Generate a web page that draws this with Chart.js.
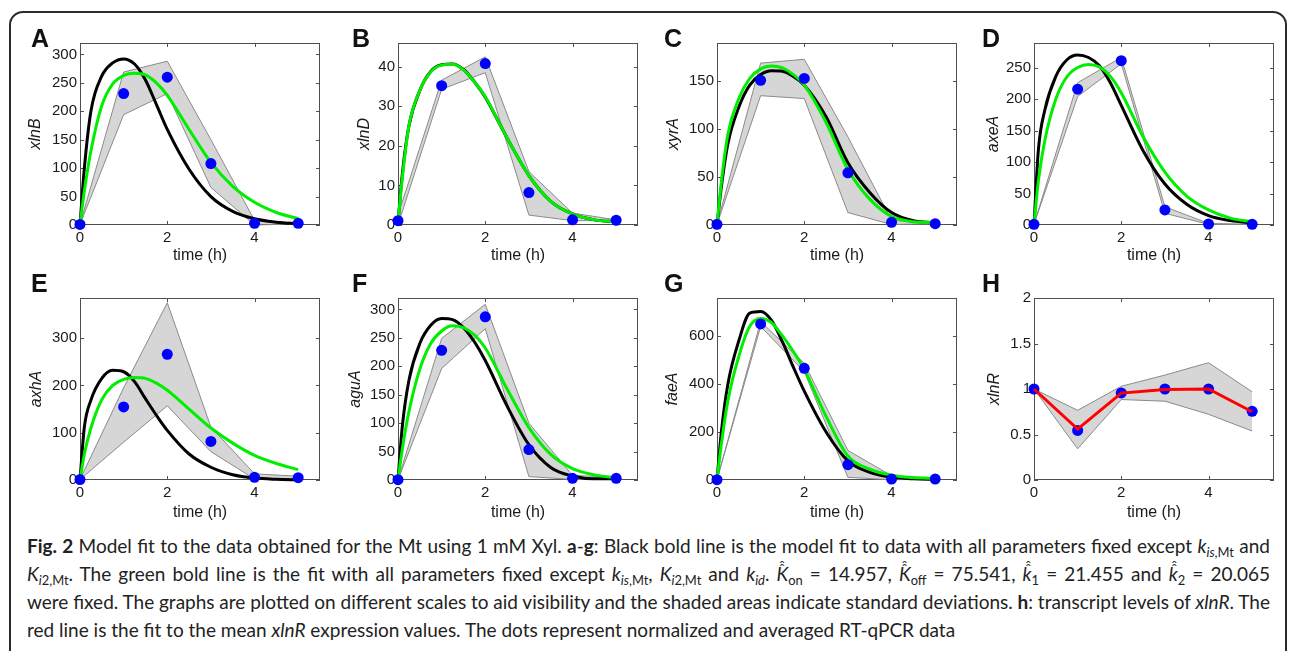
<!DOCTYPE html>
<html><head><meta charset="utf-8">
<script src="https://cdn.jsdelivr.net/npm/chart.js@4.4.0/dist/chart.umd.min.js"></script>
<style>
html,body{margin:0;padding:0;background:#fff;width:1292px;height:651px;overflow:hidden;position:relative;}
#frame{position:absolute;left:9px;top:11px;width:1278px;height:700px;border:2px solid #2b2b2b;border-radius:14px;box-sizing:border-box;}
canvas.panel{position:absolute;}
.letter{position:absolute;font:bold 25px "Liberation Sans",Arial,sans-serif;color:#111;line-height:25px;}
.cap{position:absolute;left:27px;font-family:Lato,"Open Sans",sans-serif;font-size:19px;line-height:20px;color:#222;white-space:nowrap;display:inline-block;}
.cap sub{font-size:68%;vertical-align:-0.3em;line-height:0;}
.cap b{font-weight:700;}
.hh{position:relative;display:inline-block;}
.hh::before,.hh::after{content:"\02C6";position:absolute;left:0.17em;font-style:normal;font-size:0.8em;line-height:1;}
.hh::before{top:-0.12em;}
.hh::after{top:-0.36em;}
</style></head>
<body>
<div id="frame"></div>
<div id="panels"></div>
<div class="cap" id="cap1" style="top:536px"><b>Fig. 2</b> Model fit to the data obtained for the Mt using 1 mM Xyl. <b>a</b>-<b>g</b>: Black bold line is the model fit to data with all parameters fixed except <i>k</i><sub><i>is</i>,Mt</sub> and</div>
<div class="cap" id="cap2" style="top:564px"><i>K</i><sub><i>i</i>2,Mt</sub>. The green bold line is the fit with all parameters fixed except <i>k</i><sub><i>is</i>,Mt</sub>, <i>K</i><sub><i>i</i>2,Mt</sub> and <i>k</i><sub><i>id</i></sub>. <span class="hh"><i>K</i></span><sub>on</sub> = 14.957, <span class="hh"><i>K</i></span><sub>off</sub> = 75.541, <span class="hh"><i>k</i></span><sub>1</sub> = 21.455 and <span class="hh"><i>k</i></span><sub>2</sub> = 20.065</div>
<div class="cap" id="cap3" style="top:592px">were fixed. The graphs are plotted on different scales to aid visibility and the shaded areas indicate standard deviations. <b>h</b>: transcript levels of <i>xlnR</i>. The</div>
<div class="cap" id="cap4" style="top:620px">red line is the fit to the mean <i>xlnR</i> expression values. The dots represent normalized and averaged RT-qPCR data</div>
<script>
// ---------- data ----------
const dataT = [0, 1, 2, 3, 4, 5];
const fitT = [0, 0.1, 0.25, 0.5, 0.75, 1, 1.25, 1.5, 1.75, 2, 2.5, 3, 3.5, 4, 4.5, 5];
const xTicks = [0, 2, 4];

// A xlnB
const aMean  = [1, 231, 260, 108, 3, 3];
const aUpper = [1, 269, 288, 150, 8, 4];
const aLower = [1, 194, 231, 66, 0, 2];
const aBlack = [0, 100, 200, 262, 285, 292, 283, 255, 212, 168, 98, 50, 24, 11, 5, 2];
const aGreen = [0, 60, 130, 210, 248, 263, 267, 264, 250, 228, 168, 110, 68, 40, 22, 11];
const aTicks = [0, 50, 100, 150, 200, 250, 300];

// B xlnD
const bMean  = [1.1, 35.2, 40.8, 8.2, 1.3, 1.2];
const bUpper = [2.5, 36.6, 42.5, 13.5, 3, 1.3];
const bLower = [0, 34.3, 38.5, 2.5, 1.1, 1.1];
const bBlack = [0.5, 13, 25, 34, 38.8, 40.5, 40.7, 39.3, 36.2, 32.3, 22, 12.5, 6, 2.8, 1.3, 0.8];
const bGreen = [0.5, 12, 25, 34, 38.7, 40.4, 40.6, 39.2, 36.2, 32.4, 22, 12.5, 6, 2.8, 1.3, 0.8];
const bTicks = [0, 10, 20, 30, 40];

// C xyrA
const cMean  = [0.7, 151, 153, 54.5, 2.8, 1.4];
const cUpper = [0.7, 169, 173, 92, 5, 1.5];
const cLower = [0.7, 135, 132, 13, 0.5, 1.3];
const cBlack = [0, 40, 85, 123, 146, 157, 161, 160.5, 155, 146, 113, 65, 34, 13, 4.5, 2.4];
const cGreen = [0, 45, 95, 132, 153, 163, 166, 164, 157, 146, 107, 58, 27, 9, 3.5, 2.5];
const cTicks = [0, 50, 100, 150];

// D axeA
const dMean  = [1, 215.6, 261, 24, 1.6, 1];
const dUpper = [1, 226, 266, 29, 2.5, 1.2];
const dLower = [1, 204, 256, 18.5, 1, 0.8];
const dBlack = [0, 119, 183, 236, 262, 270, 266, 253, 226, 190, 118, 65, 33, 15, 7, 3];
const dGreen = [0, 70, 135, 200, 235, 250, 255, 251, 236, 210, 140, 84, 46, 24, 11, 5];
const dTicks = [0, 50, 100, 150, 200, 250];

// E axhA
const eMean  = [1, 154.6, 266, 81.6, 5.7, 5];
const eUpper = [1, 195, 375, 112, 13, 8];
const eLower = [1, 80, 157, 60, 2, 3];
const eBlack = [0, 112, 169, 215, 232, 229, 208, 172, 137, 105, 55, 27, 11, 4, 1.5, 0.5];
const eGreen = [0, 55, 110, 170, 200, 213, 217, 215, 205, 190, 150, 110, 78, 52, 35, 22];
const eTicks = [0, 100, 200, 300];

// F aguA
const fMean  = [0.6, 228, 287, 53.5, 3, 3];
const fUpper = [0.6, 249, 309, 100, 8, 5];
const fLower = [0.6, 196, 266, 6, 1, 2];
const fBlack = [0, 95, 175, 240, 272, 284, 282, 268, 243, 210, 130, 62, 22, 7, 2, 2];
const fGreen = [0, 55, 120, 195, 240, 262, 271, 268, 255, 232, 160, 92, 45, 20, 9, 4];
const fTicks = [0, 50, 100, 150, 200, 250, 300];

// G faeA
const gMean  = [1.4, 650, 465, 64, 4, 4];
const gUpper = [1.4, 660, 486, 123, 18, 5];
const gLower = [1.4, 639, 451, 11, 1, 3];
const gBlack = [0, 200, 400, 580, 695, 702, 665, 575, 470, 370, 200, 80, 32, 12, 5, 3];
const gGreen = [0, 150, 330, 515, 640, 673, 655, 600, 535, 460, 265, 100, 45, 20, 10, 6];
const gTicks = [0, 200, 400, 600];

// H xlnR
const hMean  = [1.0, 0.545, 0.957, 1.0, 1.0, 0.755];
const hUpper = [1.0, 0.766, 1.03, 1.153, 1.289, 0.969];
const hLower = [1.0, 0.343, 0.884, 0.866, 0.722, 0.538];
const hFit   = [1.0, 0.56, 0.955, 0.995, 1.0, 0.75];
const hTicks = [0, 0.5, 1, 1.5, 2];

// ---------- layout (not data) ----------
const PLOT_W = 240, PLOT_H = 182, AX_W = 70, AX_H = 50, PAD_T = 12, PAD_R = 12;
const colLeft = [80, 398, 717, 1034];
const rowTop = [43, 298];
const FONT = '"Liberation Sans", Arial, Helvetica, sans-serif';

const panels = [
  {letter:'A', col:0, row:0, ylabel:'xlnB', ymax:320, ticks:aTicks, mean:aMean, up:aUpper, lo:aLower, black:aBlack, green:aGreen, d:44, tb:10},
  {letter:'B', col:1, row:0, ylabel:'xlnD', ymax:46,  ticks:bTicks, mean:bMean, up:bUpper, lo:bLower, black:bBlack, green:bGreen, d:33, tb:10},
  {letter:'C', col:2, row:0, ylabel:'xyrA', ymax:190, ticks:cTicks, mean:cMean, up:cUpper, lo:cLower, black:cBlack, green:cGreen, d:43, tb:10},
  {letter:'D', col:3, row:0, ylabel:'axeA', ymax:289, ticks:dTicks, mean:dMean, up:dUpper, lo:dLower, black:dBlack, green:dGreen, d:40, tb:10},
  {letter:'E', col:0, row:1, ylabel:'axhA', ymax:385, ticks:eTicks, mean:eMean, up:eUpper, lo:eLower, black:eBlack, green:eGreen, d:43, tb:8},
  {letter:'F', col:1, row:1, ylabel:'aguA', ymax:320, ticks:fTicks, mean:fMean, up:fUpper, lo:fLower, black:fBlack, green:fGreen, d:42, tb:8},
  {letter:'G', col:2, row:1, ylabel:'faeA', ymax:758, ticks:gTicks, mean:gMean, up:gUpper, lo:gLower, black:gBlack, green:gGreen, d:44, tb:8},
  {letter:'H', col:3, row:1, ylabel:'xlnR', ymax:2,   ticks:hTicks, mean:hMean, up:hUpper, lo:hLower, red:hFit, d:39, tb:8}
];
const letterLeft = [31, 352, 664, 982];
const letterTop = [26, 271];

const pts = (xs, ys) => xs.map((x, i) => ({x: x, y: ys[i]}));

const boxPlugin = {
  id: 'matlabBox',
  beforeDatasetsDraw(chart) {
    const {ctx, chartArea} = chart;
    const {left, top, right, bottom} = chartArea;
    const xs = chart.scales.x, ys = chart.scales.y;
    ctx.save();
    ctx.strokeStyle = '#505050';
    ctx.lineWidth = 1;
    ctx.strokeRect(left + 0.5, top + 0.5, right - left - 1, bottom - top - 1);
    const tl = 4;
    ctx.beginPath();
    xs.ticks.forEach(t => {
      const px = Math.round(xs.getPixelForValue(t.value)) + 0.5;
      ctx.moveTo(px, bottom); ctx.lineTo(px, bottom - tl);
      ctx.moveTo(px, top); ctx.lineTo(px, top + tl);
    });
    ys.ticks.forEach(t => {
      const py = Math.round(ys.getPixelForValue(t.value)) + 0.5;
      ctx.moveTo(left, py); ctx.lineTo(left + tl, py);
      ctx.moveTo(right, py); ctx.lineTo(right - tl, py);
    });
    ctx.stroke();
    ctx.restore();
  }
};

const host = document.getElementById('panels');
panels.forEach(p => {
  const L = colLeft[p.col], T = rowTop[p.row];
  const cv = document.createElement('canvas');
  cv.className = 'panel';
  const W = PLOT_W + AX_W + PAD_R, H = PLOT_H + PAD_T + AX_H;
  cv.width = W; cv.height = H;
  cv.style.left = (L - AX_W) + 'px';
  cv.style.top = (T - PAD_T) + 'px';
  cv.style.width = W + 'px'; cv.style.height = H + 'px';
  host.appendChild(cv);

  const lt = document.createElement('div');
  lt.className = 'letter';
  lt.textContent = p.letter;
  lt.style.left = letterLeft[p.col] + 'px';
  lt.style.top = letterTop[p.row] + 'px';
  host.appendChild(lt);

  const shadeUp = {data: pts(dataT, p.up), borderColor:'#8a8a8a', borderWidth:1, backgroundColor:'#d6d6d6',
    fill:'+1', pointRadius:0, tension:0, clip:false};
  const shadeLo = {data: pts(dataT, p.lo), borderColor:'#8a8a8a', borderWidth:1, backgroundColor:'#d6d6d6',
    fill:false, pointRadius:0, tension:0, clip:false};
  const dots = {data: pts(dataT, p.mean), showLine:false, pointRadius:5.5, pointHoverRadius:5.5,
    pointBackgroundColor:'#0000ff', pointBorderColor:'#0000ff', pointBorderWidth:0, clip:false};
  let datasets;
  if (p.red) {
    const red = {data: pts(dataT, p.red), borderColor:'#ff0000', borderWidth:3, pointRadius:0, tension:0, fill:false, clip:false};
    datasets = [red, dots, shadeUp, shadeLo];
  } else {
    const green = {data: pts(fitT, p.green), borderColor:'#00ee00', borderWidth:3, pointRadius:0,
      cubicInterpolationMode:'monotone', fill:false, clip:false};
    const black = {data: pts(fitT, p.black), borderColor:'#000000', borderWidth:3, pointRadius:0,
      cubicInterpolationMode:'monotone', fill:false, clip:false};
    datasets = [dots, green, black, shadeUp, shadeLo];
  }

  new Chart(cv, {
    type: 'line',
    data: {datasets: datasets},
    options: {
      responsive: false, animation: false, devicePixelRatio: 1, events: [],
      layout: {padding: {left: 0, top: PAD_T, right: PAD_R, bottom: 0}},
      plugins: {legend: {display: false}, tooltip: {enabled: false}, filler: {drawTime: 'beforeDatasetsDraw'}},
      scales: {
        x: {
          type: 'linear', min: 0, max: 5.5,
          afterBuildTicks: s => { s.ticks = xTicks.map(v => ({value: v})); },
          afterFit: s => { s.height = AX_H; },
          grid: {display: false, drawTicks: false}, border: {display: false},
          ticks: {padding: 4, color: '#1a1a1a', font: {family: FONT, size: 15}, maxRotation: 0, autoSkip: false,
                  callback: v => String(v)},
          title: {display: true, text: 'time (h)', color: '#1a1a1a', font: {family: FONT, size: 16},
                  padding: {top: 0, bottom: p.tb}}
        },
        y: {
          type: 'linear', min: 0, max: p.ymax,
          afterBuildTicks: s => { s.ticks = p.ticks.map(v => ({value: v})); },
          afterFit: s => { s.width = AX_W; },
          grid: {display: false, drawTicks: false}, border: {display: false},
          ticks: {padding: 3, color: '#1a1a1a', font: {family: FONT, size: 15}, autoSkip: false,
                  callback: v => String(v)},
          title: {display: true, text: p.ylabel, color: '#1a1a1a', font: {family: FONT, size: 16, style: 'italic'},
                  padding: {top: 60.4 - p.d, bottom: 0}}
        }
      }
    },
    plugins: [boxPlugin]
  });
});

// ---------- justify caption lines ----------
function justify() {
  const target = 1243;
  ['cap1', 'cap2', 'cap3'].forEach(id => {
    const el = document.getElementById(id);
    el.style.wordSpacing = '0px';
    const w = el.getBoundingClientRect().width;
    const n = (el.textContent.match(/ /g) || []).length;
    if (n > 0) el.style.wordSpacing = ((target - w) / n) + 'px';
  });
}
justify();
if (document.fonts && document.fonts.ready) document.fonts.ready.then(justify);
</script>
</body></html>
